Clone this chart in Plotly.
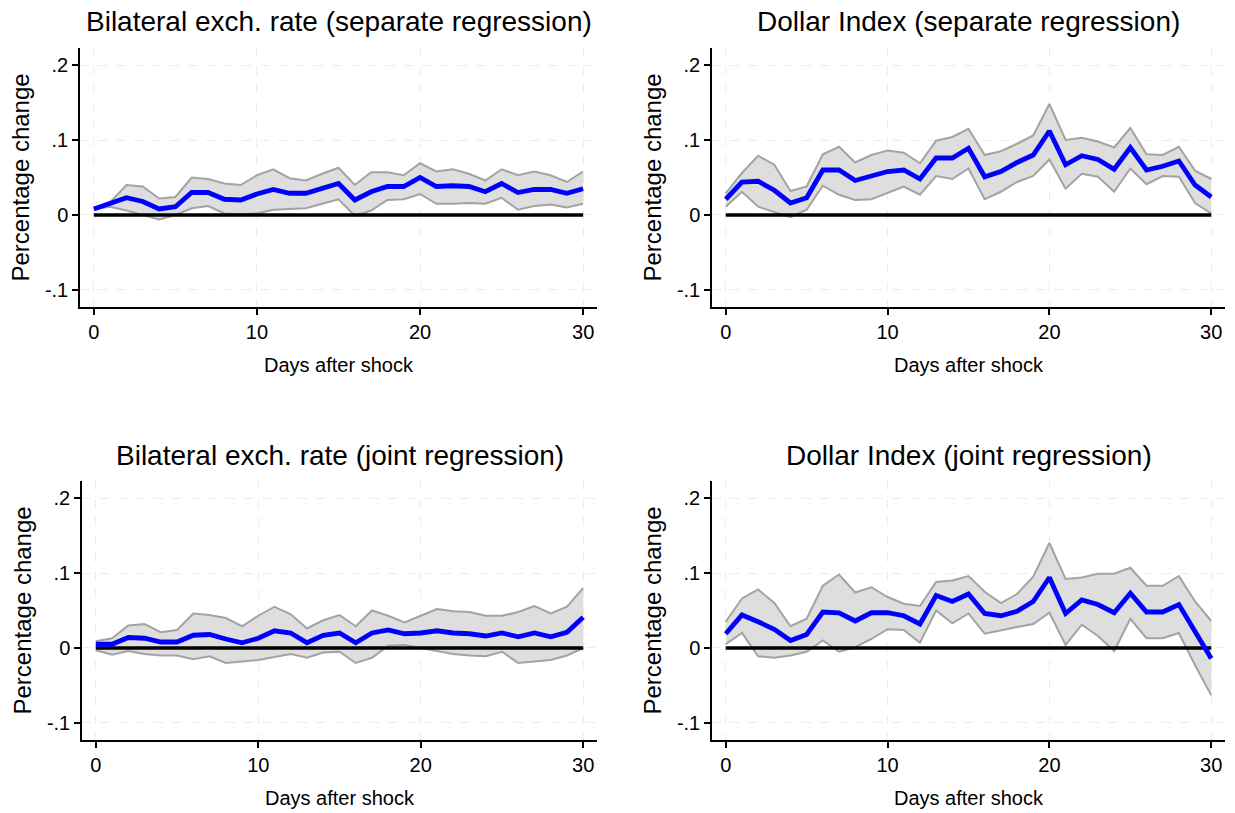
import plotly.graph_objects as go

# ---------------- data ----------------
days = list(range(31))

# Top-left: Bilateral exch. rate (separate regression)
bil_sep_coef = [0.008, 0.0155, 0.023, 0.018, 0.008, 0.011, 0.030, 0.030, 0.021, 0.020,
                0.028, 0.034, 0.029, 0.029, 0.035, 0.042, 0.020, 0.031, 0.038, 0.038,
                0.050, 0.038, 0.039, 0.038, 0.031, 0.042, 0.030, 0.034, 0.034, 0.029, 0.035]
bil_sep_hi = [0.008, 0.017, 0.040, 0.038, 0.022, 0.024, 0.050, 0.048, 0.042, 0.040,
              0.053, 0.061, 0.049, 0.046, 0.055, 0.063, 0.040, 0.057, 0.057, 0.053,
              0.069, 0.058, 0.061, 0.055, 0.046, 0.061, 0.053, 0.058, 0.053, 0.044, 0.058]
bil_sep_lo = [0.008, 0.011, 0.006, 0.000, -0.006, 0.000, 0.009, 0.012, 0.002, 0.001,
              0.002, 0.007, 0.008, 0.009, 0.015, 0.021, -0.001, 0.006, 0.020, 0.021,
              0.028, 0.015, 0.015, 0.016, 0.015, 0.023, 0.007, 0.012, 0.014, 0.010, 0.015]

# Top-right: Dollar Index (separate regression)
dxy_sep_coef = [0.021, 0.044, 0.045, 0.033, 0.016, 0.023, 0.060, 0.060, 0.046, 0.052,
                0.058, 0.060, 0.048, 0.076, 0.076, 0.089, 0.051, 0.058, 0.070, 0.080,
                0.112, 0.067, 0.079, 0.074, 0.061, 0.090, 0.060, 0.065, 0.072, 0.040, 0.024]
dxy_sep_hi = [0.029, 0.056, 0.079, 0.067, 0.032, 0.038, 0.081, 0.091, 0.070, 0.080,
              0.086, 0.083, 0.069, 0.099, 0.104, 0.115, 0.080, 0.085, 0.095, 0.106,
              0.148, 0.100, 0.103, 0.098, 0.090, 0.116, 0.081, 0.080, 0.091, 0.059, 0.048]
dxy_sep_lo = [0.011, 0.031, 0.011, 0.004, -0.003, 0.007, 0.039, 0.027, 0.020, 0.021,
              0.029, 0.038, 0.027, 0.052, 0.048, 0.062, 0.021, 0.031, 0.044, 0.052,
              0.074, 0.035, 0.055, 0.051, 0.031, 0.062, 0.041, 0.052, 0.051, 0.016, 0.002]

# Bottom-left: Bilateral exch. rate (joint regression)
bil_joint_coef = [0.005, 0.005, 0.014, 0.013, 0.008, 0.008, 0.017, 0.018, 0.012, 0.007,
                  0.013, 0.023, 0.020, 0.007, 0.017, 0.020, 0.007, 0.020, 0.024, 0.019,
                  0.020, 0.023, 0.020, 0.019, 0.016, 0.020, 0.015, 0.020, 0.015, 0.021, 0.041]
bil_joint_hi = [0.009, 0.013, 0.030, 0.032, 0.021, 0.024, 0.046, 0.044, 0.040, 0.029,
                0.043, 0.055, 0.045, 0.026, 0.037, 0.044, 0.029, 0.050, 0.043, 0.034,
                0.043, 0.052, 0.049, 0.048, 0.043, 0.043, 0.048, 0.056, 0.046, 0.055, 0.080]
bil_joint_lo = [-0.003, -0.009, -0.004, -0.008, -0.010, -0.010, -0.015, -0.011, -0.020, -0.018,
                -0.016, -0.012, -0.008, -0.013, -0.006, -0.005, -0.020, -0.013, 0.003, 0.004,
                0.000, -0.005, -0.008, -0.010, -0.011, -0.005, -0.020, -0.018, -0.016, -0.010, 0.000]

# Bottom-right: Dollar Index (joint regression)
dxy_joint_coef = [0.019, 0.044, 0.035, 0.025, 0.010, 0.018, 0.048, 0.047, 0.036, 0.047,
                  0.047, 0.043, 0.032, 0.070, 0.062, 0.072, 0.046, 0.043, 0.049, 0.062,
                  0.094, 0.046, 0.064, 0.058, 0.047, 0.073, 0.048, 0.048, 0.058, 0.022, -0.014]
dxy_joint_hi = [0.035, 0.066, 0.078, 0.060, 0.029, 0.039, 0.083, 0.098, 0.074, 0.081,
                0.068, 0.059, 0.056, 0.088, 0.090, 0.096, 0.075, 0.060, 0.072, 0.095,
                0.140, 0.092, 0.094, 0.099, 0.099, 0.107, 0.083, 0.083, 0.096, 0.062, 0.036]
dxy_joint_lo = [0.005, 0.020, -0.011, -0.013, -0.010, -0.005, 0.010, -0.005, 0.001, 0.012,
                0.025, 0.024, 0.007, 0.050, 0.033, 0.046, 0.019, 0.024, 0.028, 0.032,
                0.047, 0.004, 0.031, 0.016, -0.004, 0.039, 0.013, 0.013, 0.020, -0.023, -0.063]

titles = ["Bilateral exch. rate (separate regression)",
          "Dollar Index (separate regression)",
          "Bilateral exch. rate (joint regression)",
          "Dollar Index (joint regression)"]
y_tick_vals = [-0.1, 0, 0.1, 0.2]
y_tick_text = ["-.1", "0", ".1", ".2"]
x_tick_vals = [0, 10, 20, 30]
x_title = "Days after shock"
y_title = "Percentage change"

panels = [
    (bil_sep_coef, bil_sep_lo, bil_sep_hi),
    (dxy_sep_coef, dxy_sep_lo, dxy_sep_hi),
    (bil_joint_coef, bil_joint_lo, bil_joint_hi),
    (dxy_joint_coef, dxy_joint_lo, dxy_joint_hi),
]

# ---------------- layout geometry (pixels) ----------------
W, H = 1235, 813
FONT = "Liberation Sans, Arial, sans-serif"

def px(x):
    return x / W

def py(y):
    return 1 - y / H

# plot frames: (left, right, top, bottom) in pixels
frames = [
    (80, 597, 48, 307),
    (712, 1225, 48, 307),
    (82, 597, 481, 740),
    (712, 1225, 481, 740),
]

fig = go.Figure()
layout = dict(
    width=W, height=H,
    margin=dict(l=0, r=0, t=0, b=0),
    paper_bgcolor="white", plot_bgcolor="white",
    showlegend=False,
    font=dict(family=FONT, color="black"),
)
annotations = []

for i, ((coef, lo, hi), (l, r, t, b), title) in enumerate(zip(panels, frames, titles)):
    n = i + 1
    xa = "x" if n == 1 else f"x{n}"
    ya = "y" if n == 1 else f"y{n}"
    # band
    fig.add_trace(go.Scatter(x=days, y=lo, mode="lines", xaxis=xa, yaxis=ya,
                             line=dict(color="#a3a3a3", width=2), hoverinfo="skip"))
    fig.add_trace(go.Scatter(x=days, y=hi, mode="lines", xaxis=xa, yaxis=ya,
                             fill="tonexty", fillcolor="#dedede",
                             line=dict(color="#a3a3a3", width=2), hoverinfo="skip"))
    # zero line
    fig.add_trace(go.Scatter(x=days, y=[0] * len(days), mode="lines", xaxis=xa, yaxis=ya,
                             line=dict(color="black", width=3.5), hoverinfo="skip"))
    # coefficient
    fig.add_trace(go.Scatter(x=days, y=coef, mode="lines", xaxis=xa, yaxis=ya,
                             line=dict(color="#0000ff", width=4.8)))

    xkey = "xaxis" if n == 1 else f"xaxis{n}"
    ykey = "yaxis" if n == 1 else f"yaxis{n}"
    layout[xkey] = dict(
        domain=[px(l), px(r)], anchor=ya, range=[-0.85, 30.85],
        tickvals=x_tick_vals, ticks="outside", ticklen=6, tickwidth=1.5, tickcolor="black",
        showline=True, linecolor="black", linewidth=1.5,
        showgrid=True, gridcolor="#ececec", gridwidth=1.2, griddash="dash",
        zeroline=False, tickfont=dict(size=20, family=FONT, color="black"),
    )
    layout[ykey] = dict(
        domain=[py(b), py(t)], anchor=xa, range=[-0.1227, 0.2227],
        tickvals=y_tick_vals, ticktext=y_tick_text,
        ticks="outside", ticklen=6, tickwidth=1.5, tickcolor="black",
        showline=True, linecolor="black", linewidth=1.5,
        showgrid=True, gridcolor="#ececec", gridwidth=1.2, griddash="dash",
        zeroline=False, tickfont=dict(size=20, family=FONT, color="black"),
    )
    cx = (l + r) / 2
    annotations.append(dict(text=title, x=px(cx), y=py(t - 26), xref="paper", yref="paper",
                            xanchor="center", yanchor="middle", showarrow=False,
                            font=dict(size=28, family=FONT, color="black")))
    annotations.append(dict(text=x_title, x=px(cx), y=py(b + 58), xref="paper", yref="paper",
                            xanchor="center", yanchor="middle", showarrow=False,
                            font=dict(size=20, family=FONT, color="black")))
    annotations.append(dict(text=y_title, x=px(l - 60), y=py((t + b) / 2), xref="paper", yref="paper",
                            xanchor="center", yanchor="middle", showarrow=False, textangle=-90,
                            font=dict(size=24, family=FONT, color="black")))

layout["annotations"] = annotations
fig.update_layout(**layout)
fig.write_html("out.html",
               config={"displayModeBar": False},
               post_script="document.body.style.margin='0';document.body.style.overflow='hidden';")
